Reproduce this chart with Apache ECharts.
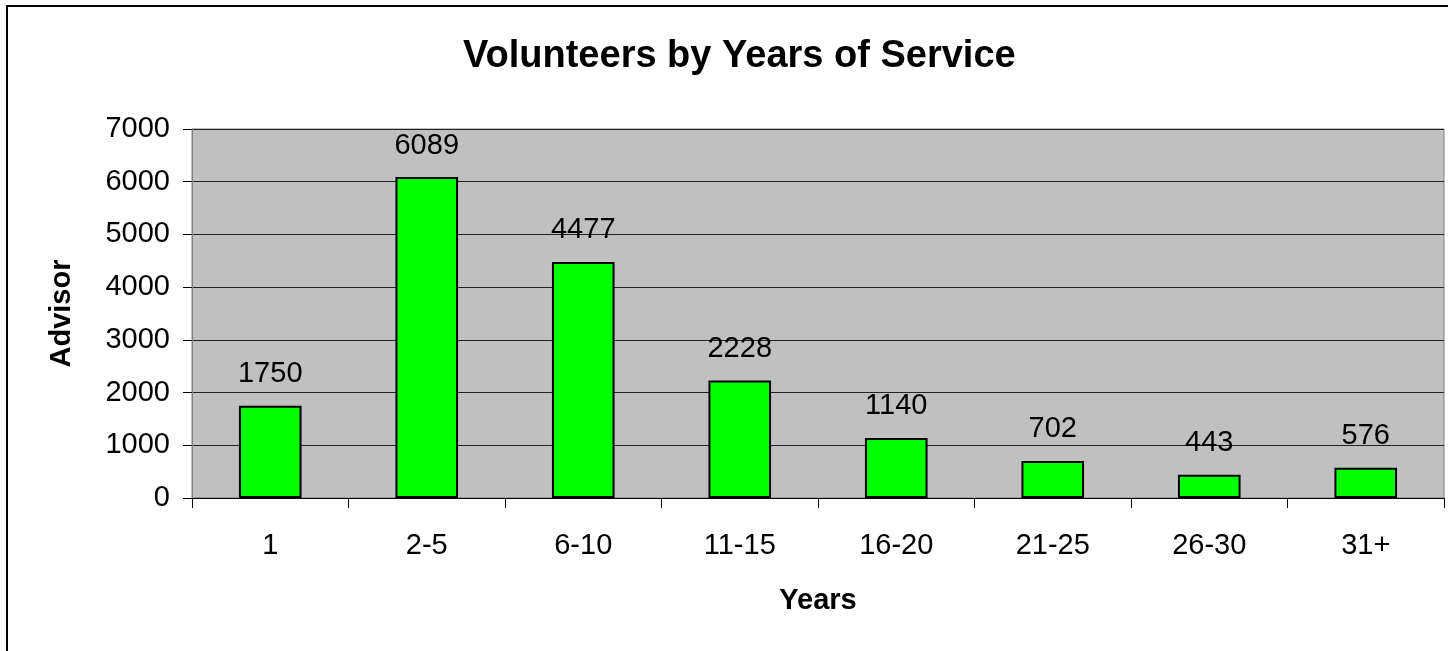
<!DOCTYPE html>
<html>
<head>
<meta charset="utf-8">
<script src="https://cdn.jsdelivr.net/npm/echarts@6/dist/echarts.min.js"></script>
<style>
html,body{margin:0;padding:0;background:#fff;}
#chart{width:1448px;height:651px;}
</style>
</head>
<body>
<div id="chart"></div>
<script>
const categories = ['1', '2-5', '6-10', '11-15', '16-20', '21-25', '26-30', '31+'];
const advisors = [1750, 6089, 4477, 2228, 1140, 702, 443, 576];
const titleText = 'Volunteers by Years of Service';
const yName = 'Advisor';
const xName = 'Years';

const FONT = "'Liberation Sans', Arial, sans-serif";
const chart = echarts.init(document.getElementById('chart'));
chart.setOption({
  animation: false,
  backgroundColor: '#fff',
  title: {
    text: titleText,
    left: 458,
    top: 33,
    textStyle: { fontFamily: FONT, fontSize: 38, fontWeight: 'bold', color: '#000' }
  },
  graphic: [{
    type: 'rect',
    shape: { x: 7, y: 6, width: 1600, height: 800 },
    style: { fill: 'none', stroke: '#000', lineWidth: 2 },
    silent: true
  }],
  grid: {
    left: 192, right: 4, top: 129, bottom: 153,
    show: true, backgroundColor: '#C0C0C0', borderColor: '#808080', borderWidth: 1
  },
  xAxis: {
    type: 'category',
    data: categories,
    name: xName,
    nameLocation: 'middle',
    nameGap: 88,
    nameTextStyle: { fontFamily: FONT, fontSize: 29, fontWeight: 'bold', color: '#000' },
    axisLine: { lineStyle: { color: '#000', width: 1 } },
    axisTick: { show: true, alignWithLabel: false, length: 10, lineStyle: { color: '#000' } },
    axisLabel: { fontFamily: FONT, fontSize: 29, color: '#000', margin: 33 },
    splitLine: { show: false }
  },
  yAxis: {
    type: 'value',
    min: 0, max: 7000, interval: 1000,
    name: yName,
    nameLocation: 'middle',
    nameRotate: 90,
    nameGap: 116,
    nameTextStyle: { fontFamily: FONT, fontSize: 29, fontWeight: 'bold', color: '#000' },
    axisLine: { show: true, lineStyle: { color: '#808080', width: 1 } },
    axisTick: { show: true, length: 9, lineStyle: { color: '#000' } },
    axisLabel: { fontFamily: FONT, fontSize: 29, color: '#000', margin: 22, formatter: v => String(v) },
    splitLine: { show: true, lineStyle: { color: '#222', width: 1 } }
  },
  series: [{
    type: 'bar',
    data: advisors,
    barWidth: '40%',
    itemStyle: { color: '#00FF00', borderColor: '#000', borderWidth: 2 },
    label: {
      show: true, position: 'top', distance: 17,
      fontFamily: FONT, fontSize: 29, color: '#000'
    }
  }]
});
</script>
</body>
</html>
